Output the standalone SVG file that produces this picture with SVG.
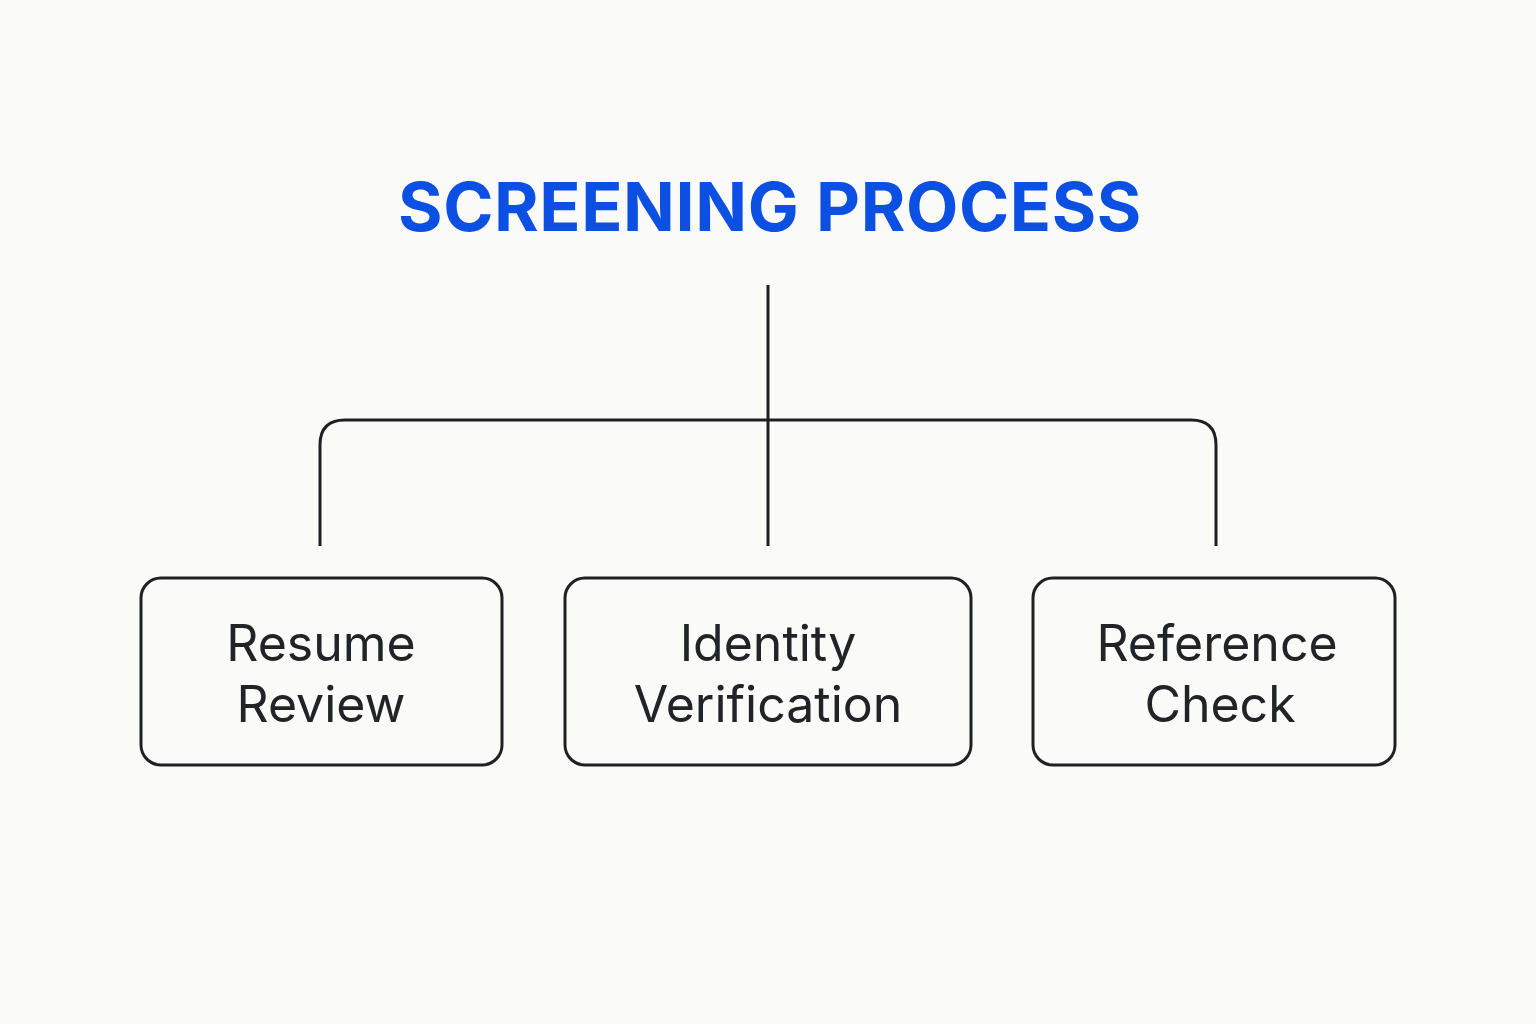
<svg xmlns="http://www.w3.org/2000/svg" width="1536" height="1024" viewBox="0 0 1536 1024">
<style>
.bg{fill:#fafaf8}
.box{fill:#fafaf8;stroke:#1f2023;stroke-width:3}
.lbl{font-family:Inter,"Noto Sans",sans-serif;font-size:50px;fill:#222326;text-anchor:middle}
.title{font-family:Inter,"Noto Sans",sans-serif;font-size:68px;font-weight:700;fill:#0b4fe3;text-anchor:middle;letter-spacing:0.6px}
.conn{fill:none;stroke:#1f2023;stroke-width:3}
</style>
<rect class="bg" width="1536" height="1024"/>
<text id="title" class="title" x="770" y="231">SCREENING PROCESS</text>
<g id="connectors">
<path class="conn" d="M768 285 V546"/>
<path class="conn" d="M320 546 V445 Q320 420 345 420 H1191 Q1216 420 1216 445 V546"/>
</g>
<g id="node-resume">
<rect class="box" x="141" y="578" width="361" height="187" rx="20"/>
<text class="lbl" x="321" y="661">Resume</text>
<text class="lbl" x="321" y="722">Review</text>
</g>
<g id="node-identity">
<rect class="box" x="565" y="578" width="406" height="187" rx="20"/>
<text class="lbl" x="768" y="661">Identity</text>
<text class="lbl" x="768" y="722">Verification</text>
</g>
<g id="node-reference">
<rect class="box" x="1033" y="578" width="362" height="187" rx="20"/>
<text class="lbl" x="1217" y="661">Reference</text>
<text class="lbl" x="1220" y="722">Check</text>
</g>
</svg>
